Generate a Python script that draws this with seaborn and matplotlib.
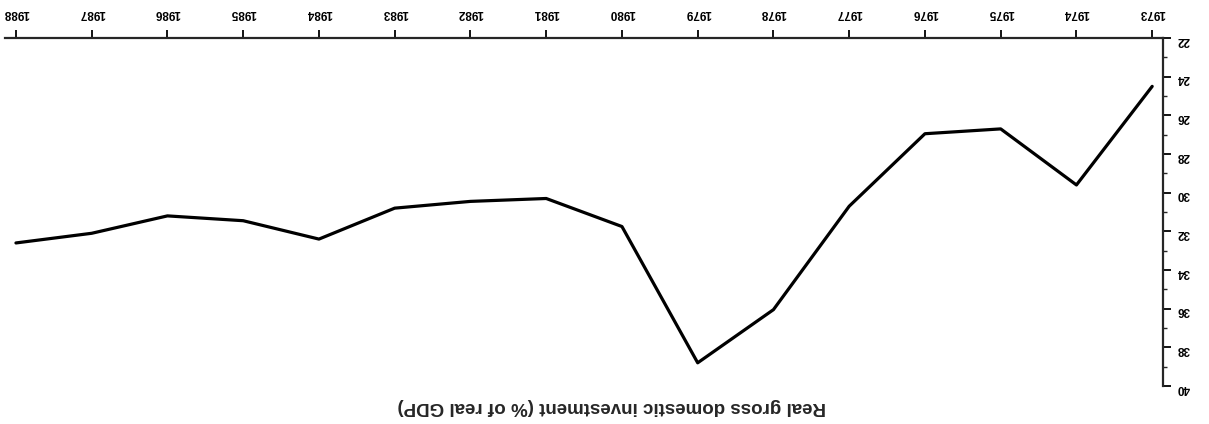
import matplotlib
matplotlib.use("Agg")
import matplotlib.pyplot as plt
import seaborn as sns
import pandas as pd
from matplotlib.ticker import MultipleLocator

years = list(range(1973, 1989))
investment = [24.5, 29.6, 26.7, 26.95, 30.7, 36.05, 38.8, 31.75,
              30.3, 30.45, 30.8, 32.4, 31.45, 31.2, 32.1, 32.6]
y_ticks = list(range(22, 41, 2))
title = "Real gross domestic investment (% of real GDP)"

df = pd.DataFrame({"year": years, "investment": investment})

sns.set_style("white")
plt.rcParams['font.family'] = ['Liberation Sans', 'DejaVu Sans']

fig = plt.figure(figsize=(12.09, 4.24), dpi=100)
ax = fig.add_axes([0.0041, 0.0896, 0.958, 0.8207])
sns.lineplot(data=df, x="year", y="investment", color="black", linewidth=2.3, ax=ax)

# the page is scanned upside down, so flip both axes
ax.set_xlim(1988.145, 1972.855)
ax.set_ylim(40, 22)

ax.spines['left'].set_visible(False)
ax.spines['bottom'].set_visible(False)
ax.spines['top'].set_linewidth(1.6)
ax.spines['right'].set_linewidth(1.6)

ax.xaxis.tick_top()
ax.yaxis.tick_right()
ax.set_xticks(years)
ax.set_xticklabels([str(y) for y in years], rotation=180, fontsize=8.5, fontweight='bold')
ax.set_yticks(y_ticks)
ax.set_yticklabels([str(v) for v in y_ticks], rotation=180, fontsize=8.5, fontweight='bold')
ax.yaxis.set_minor_locator(MultipleLocator(1))

ax.tick_params(axis='x', direction='out', length=6, width=1.3, pad=8, colors='black')
ax.tick_params(axis='y', which='major', direction='out', length=6, width=1.3, pad=4, colors='black')
ax.tick_params(axis='y', which='minor', direction='out', length=3, width=1.0, right=True)

ax.set_xlabel("")
ax.set_ylabel("")

fig.text(0.506, 1 - 407 / 424, title, rotation=180, ha='center', va='center',
         fontsize=13.5, fontweight='bold')

fig.savefig("out.png", dpi=100)
